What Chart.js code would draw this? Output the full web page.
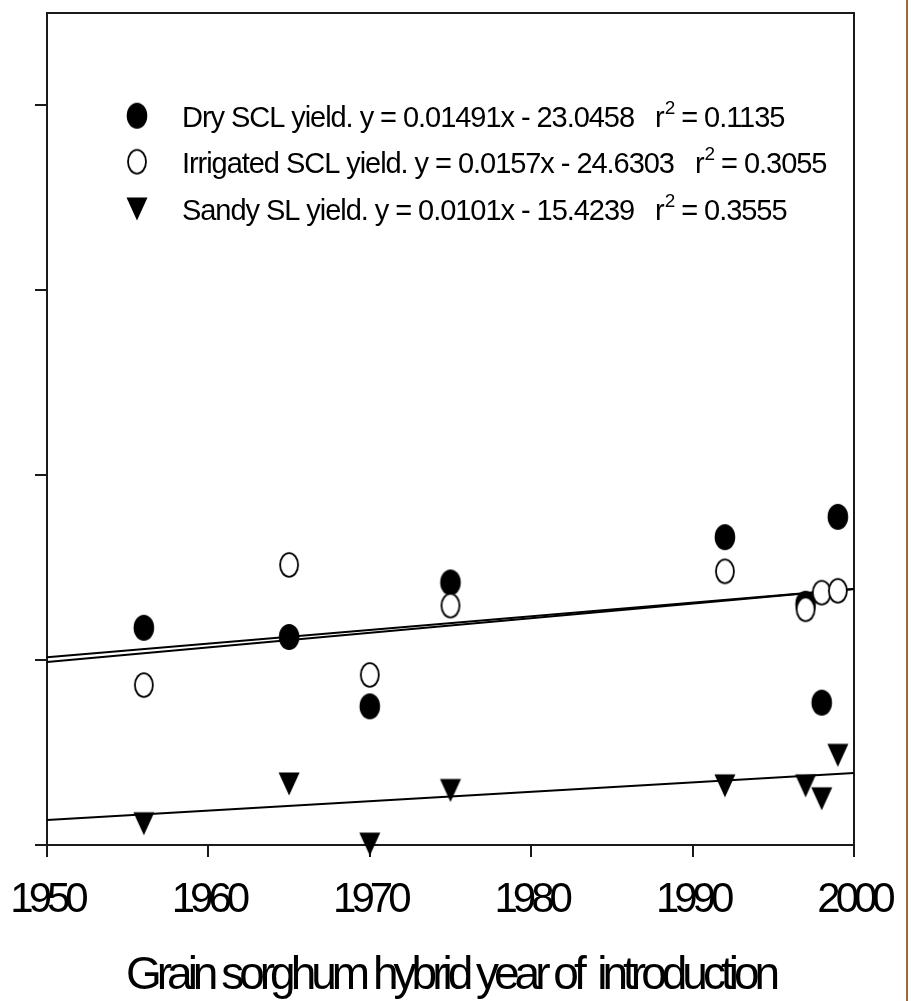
<!DOCTYPE html>
<html>
<head>
<meta charset="utf-8">
<script src="https://cdn.jsdelivr.net/npm/chart.js@4.4.1/dist/chart.umd.min.js"></script>
<style>
  html, body { margin: 0; padding: 0; background: #fff; }
  #wrap { position: relative; width: 911px; height: 1001px; }
  #edge { position: absolute; left: 906px; top: 0; width: 2px; height: 1001px; background: #9a6a3c; }
</style>
</head>
<body>
<div id="wrap">
  <canvas id="yieldChart" width="911" height="1001"></canvas>
  <div id="edge"></div>
</div>
<script>
// --- DATOS ---
const years = [1956, 1965, 1970, 1975, 1992, 1997, 1998, 1999];
const dryYield = [6.35, 6.25, 5.50, 6.84, 7.33, 6.61, 5.54, 7.55];
const irrigatedYield = [5.73, 7.03, 5.84, 6.59, 6.96, 6.55, 6.73, 6.75];
const sandyYield = [4.23, 4.66, 4.01, 4.59, 4.64, 4.64, 4.50, 4.97];

// regression lines, end points at 1950 and 2000
const fitYears = [1950, 2000];
const dryFit = [6.03, 6.77];
const irrigatedFit = [5.98, 6.77];
const sandyFit = [4.27, 4.78];

const xTickValues = [1950, 1960, 1970, 1980, 1990, 2000];
const yTickValues = [4, 6, 8, 10, 12];

const legendLines = [
    ['Dry SCL yield. y = 0.01491x - 23.0458   r', '2', ' = 0.1135'],
    ['Irrigated SCL yield. y = 0.0157x - 24.6303   r', '2', ' = 0.3055'],
    ['Sandy SL yield. y = 0.0101x - 15.4239   r', '2', ' = 0.3555']
];

const FONT = "'Liberation Sans', Arial, sans-serif";

// --- MARCADORES ---
function makeMarker(kind) {
    const c = document.createElement('canvas');
    c.width = 24; c.height = 30;
    const g = c.getContext('2d');
    g.beginPath();
    if (kind === 'tri') {
        g.moveTo(1.5, 3.5); g.lineTo(22.5, 3.5); g.lineTo(12, 26.5); g.closePath();
        g.fillStyle = '#000'; g.fill();
    } else if (kind === 'open') {
        g.ellipse(12, 15, 9, 11.8, 0, 0, Math.PI * 2);
        g.fillStyle = '#fff'; g.fill();
        g.lineWidth = 1.8; g.strokeStyle = '#000'; g.stroke();
    } else {
        g.ellipse(12, 15, 10.3, 13, 0, 0, Math.PI * 2);
        g.fillStyle = '#000'; g.fill();
    }
    return c;
}
const dotFilled = makeMarker('filled');
const dotOpen = makeMarker('open');
const triDown = makeMarker('tri');

const toPoints = (xs, ys) => xs.map((x, i) => ({ x, y: ys[i] }));

function scatterSet(label, ys, style) {
    return {
        type: 'scatter', label, data: toPoints(years, ys),
        pointStyle: style, pointRadius: 12, clip: false
    };
}
function fitSet(label, ys) {
    return {
        type: 'line', label, data: toPoints(fitYears, ys),
        borderColor: '#000', borderWidth: 2, pointRadius: 0, tension: 0, fill: false
    };
}

// --- PLUGINS ---
const framePlugin = {
    id: 'frame',
    beforeDraw(chart) {
        chart.ctx.letterSpacing = '-5px';
    },
    beforeDatasetsDraw(chart) {
        const { ctx, chartArea: a } = chart;
        ctx.save();
        ctx.strokeStyle = '#1a1a1a';
        ctx.lineWidth = 2;
        ctx.beginPath();
        ctx.moveTo(a.left, a.top);
        ctx.lineTo(a.right, a.top);
        ctx.lineTo(a.right, a.bottom);
        ctx.stroke();
        ctx.restore();
    }
};

const legendPlugin = {
    id: 'eqLegend',
    afterDraw(chart) {
        const ctx = chart.ctx;
        const markers = [dotFilled, dotOpen, triDown];
        const markerY = [115.7, 161.7, 209];
        const baseY = [126.5, 173, 219.5];
        ctx.save();
        ctx.letterSpacing = '-1.05px';
        ctx.fillStyle = '#000';
        ctx.textBaseline = 'alphabetic';
        ctx.textAlign = 'left';
        legendLines.forEach((parts, i) => {
            const m = markers[i];
            ctx.drawImage(m, 137 - m.width / 2, markerY[i] - m.height / 2);
            let x = 182;
            ctx.font = `29px ${FONT}`;
            ctx.fillText(parts[0], x, baseY[i]);
            x += ctx.measureText(parts[0]).width + 1;
            ctx.font = `19px ${FONT}`;
            ctx.fillText(parts[1], x, baseY[i] - 13);
            x += ctx.measureText(parts[1]).width;
            ctx.font = `29px ${FONT}`;
            ctx.fillText(parts[2], x, baseY[i]);
        });
        ctx.restore();
    }
};

// --- GRAFICO ---
const axisGrid = { drawOnChartArea: false, drawTicks: true, tickLength: 12, lineWidth: 2, color: '#1a1a1a' };
const axisBorder = { display: true, width: 2, color: '#1a1a1a' };

new Chart(document.getElementById('yieldChart').getContext('2d'), {
    data: {
        datasets: [
            scatterSet('Irrigated SCL yield', irrigatedYield, dotOpen),
            scatterSet('Dry SCL yield', dryYield, dotFilled),
            scatterSet('Sandy SL yield', sandyYield, triDown),
            fitSet('Dry fit', dryFit),
            fitSet('Irrigated fit', irrigatedFit),
            fitSet('Sandy fit', sandyFit)
        ]
    },
    options: {
        responsive: false,
        animation: false,
        layout: { padding: { top: 9, right: 57, left: 0, bottom: 0 } },
        plugins: { legend: { display: false }, tooltip: { enabled: false } },
        scales: {
            x: {
                type: 'linear', position: 'bottom', min: 1950, max: 2000,
                afterBuildTicks: s => { s.ticks = xTickValues.map(v => ({ value: v })); },
                afterFit: s => { s.height = 156; s.paddingLeft = 0; s.paddingRight = 0; },
                ticks: {
                    autoSkip: false, maxRotation: 0, color: '#000', padding: 22,
                    font: { family: FONT, size: 42, lineHeight: 1 },
                    callback: v => String(v)
                },
                grid: axisGrid,
                border: axisBorder,
                title: {
                    display: true, text: 'Grain sorghum hybrid year of  introduction', color: '#000',
                    font: { family: FONT, size: 46, lineHeight: 1 },
                    padding: { top: 0, bottom: 2 }
                }
            },
            y: {
                type: 'linear', position: 'left', min: 4, max: 13,
                afterBuildTicks: s => { s.ticks = yTickValues.map(v => ({ value: v })); },
                afterFit: s => { s.width = 47; s.paddingTop = 0; s.paddingBottom = 0; },
                ticks: { display: false },
                grid: axisGrid,
                border: axisBorder
            }
        }
    },
    plugins: [framePlugin, legendPlugin]
});
</script>
</body>
</html>
